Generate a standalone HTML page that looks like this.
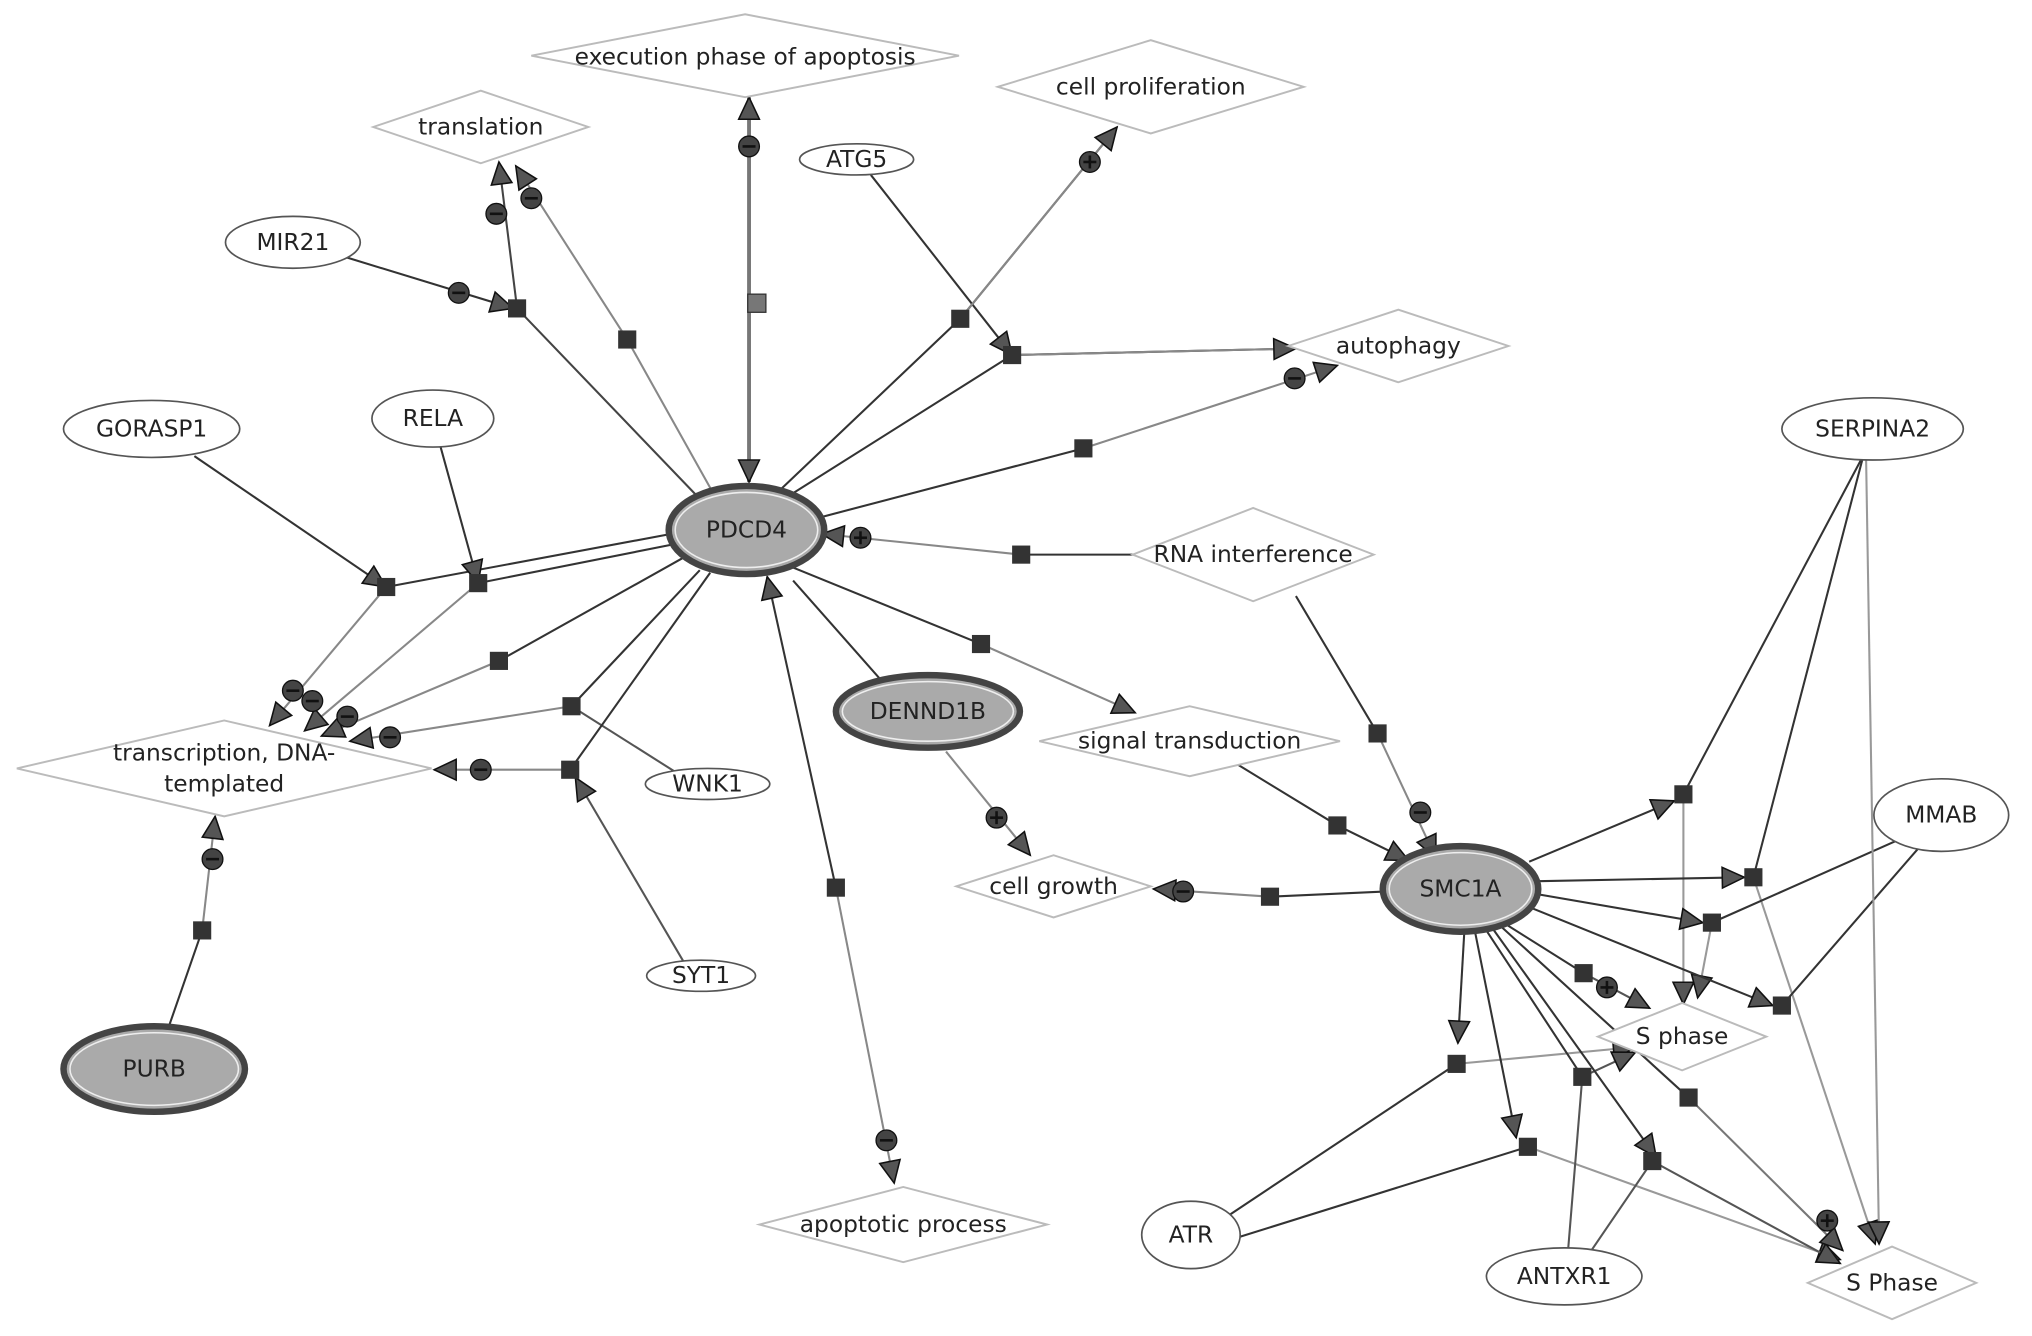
<!DOCTYPE html>
<html><head><meta charset="utf-8"><style>
html,body{margin:0;padding:0;background:#fff}
svg{display:block}
text{font-family:"DejaVu Sans","Liberation Sans",sans-serif;font-size:18px;fill:#222}
</style></head><body>
<svg width="2032" height="1336" viewBox="0 0 1568 1031" preserveAspectRatio="none" xmlns="http://www.w3.org/2000/svg">
<defs>
<marker id="a" markerUnits="userSpaceOnUse" markerWidth="20" markerHeight="20" refX="18" refY="9" orient="auto">
<path d="M1,1 L18,9 L1,17 Z" fill="#555" stroke="#111" stroke-width="1.2"/></marker>
<marker id="as" markerUnits="userSpaceOnUse" markerWidth="20" markerHeight="20" refX="2" refY="9" orient="auto">
<path d="M19,1 L2,9 L19,17 Z" fill="#555" stroke="#111" stroke-width="1.2"/></marker>
<g id="sq"><rect x="-7" y="-7" width="14" height="14" fill="#333"/></g>
<g id="mi"><circle r="8" fill="#444" stroke="#111"/><line x1="-5" y1="0" x2="5" y2="0" stroke="#111" stroke-width="2"/></g>
<g id="pl"><circle r="8" fill="#444" stroke="#111"/><line x1="-5" y1="0" x2="5" y2="0" stroke="#111" stroke-width="2"/><line x1="0" y1="-5" x2="0" y2="5" stroke="#111" stroke-width="2"/></g>
</defs>
<g fill="none" stroke-width="1.6">
<!-- PDCD4 hub -->
<path d="M540,385 L399,238 L385,125" stroke="#444" marker-end="url(#a)"/>
<path d="M262,197 L396,238" stroke="#333" marker-end="url(#a)"/>
<path d="M550,380 L484,262 L398,128" stroke="#888" marker-end="url(#a)"/>
<path d="M578,75 L578,372" stroke="#777" stroke-width="3" marker-start="url(#as)" marker-end="url(#a)"/>
<path d="M672,135 L781,274" stroke="#333" marker-end="url(#a)"/>
<path d="M600,380 L741,246 L862,98" stroke="#333"/>
<path d="M741,246 L862,98" stroke="#888" marker-end="url(#a)"/>
<path d="M605,385 L781,274 L1000,269" stroke="#333"/>
<path d="M781,274 L1000,269" stroke="#888" marker-end="url(#a)"/>
<path d="M630,400 L836,346" stroke="#333"/>
<path d="M836,346 L1032,282" stroke="#888" marker-end="url(#a)"/>
<path d="M875,428 L788,428" stroke="#333"/>
<path d="M788,428 L634,412" stroke="#888" marker-end="url(#a)"/>
<path d="M612,438 L757,497" stroke="#333"/>
<path d="M757,497 L876,550" stroke="#888" marker-end="url(#a)"/>
<path d="M730,580 L795,660" stroke="#888" marker-end="url(#a)"/>
<path d="M680,525 L612,448" stroke="#333"/>
<path d="M645,685 L592,445" stroke="#333" marker-end="url(#a)"/>
<path d="M645,685 L690,913" stroke="#888" marker-end="url(#a)"/>
<path d="M150,352 L298,453" stroke="#333" marker-end="url(#a)"/>
<path d="M298,453 L518,412" stroke="#333"/>
<path d="M298,453 L208,560" stroke="#888" marker-end="url(#a)"/>
<path d="M340,345 L369,450" stroke="#333" marker-end="url(#a)"/>
<path d="M369,450 L520,420" stroke="#333"/>
<path d="M369,450 L235,564" stroke="#888" marker-end="url(#a)"/>
<path d="M528,430 L385,510" stroke="#333"/>
<path d="M385,510 L248,568" stroke="#888" marker-end="url(#a)"/>
<path d="M520,595 L441,545" stroke="#555"/>
<path d="M441,545 L270,572" stroke="#888" marker-end="url(#a)"/>
<path d="M540,440 L441,545" stroke="#333"/>
<path d="M548,442 L440,594" stroke="#333"/>
<path d="M440,594 L335,594" stroke="#888" marker-end="url(#a)"/>
<path d="M528,743 L444,600" stroke="#555" marker-end="url(#a)"/>
<path d="M130,793 L156,718" stroke="#333"/>
<path d="M156,718 L166,630" stroke="#888" marker-end="url(#a)"/>
<!-- right part -->
<path d="M1000,460 L1063,566" stroke="#333"/>
<path d="M1063,566 L1108,662" stroke="#888" marker-end="url(#a)"/>
<path d="M955,590 L1032,637 L1087,664" stroke="#333" marker-end="url(#a)"/>
<path d="M1068,688 L980,692" stroke="#333"/>
<path d="M980,692 L890,686" stroke="#888" marker-end="url(#a)"/>
<path d="M1180,665 L1292,618" stroke="#333" marker-end="url(#a)"/>
<path d="M1436,355 L1299,613" stroke="#333"/>
<path d="M1299,613 L1299,775" stroke="#999" marker-end="url(#a)"/>
<path d="M1187,680 L1346,677" stroke="#333" marker-end="url(#a)"/>
<path d="M1437,355 L1353,677" stroke="#333"/>
<path d="M1353,677 L1447,960" stroke="#999" marker-end="url(#a)"/>
<path d="M1186,690 L1314,712" stroke="#333" marker-end="url(#a)"/>
<path d="M1472,645 L1321,712" stroke="#333"/>
<path d="M1321,712 L1310,770" stroke="#999" marker-end="url(#a)"/>
<path d="M1180,700 L1368,776" stroke="#333" marker-end="url(#a)"/>
<path d="M1480,655 L1375,776" stroke="#333"/>
<path d="M1440,355 L1450,960" stroke="#999" marker-end="url(#a)"/>
<path d="M1160,712 L1222,751" stroke="#333"/>
<path d="M1222,751 L1273,778" stroke="#555" marker-end="url(#a)"/>
<path d="M1130,718 L1125,805" stroke="#333" marker-end="url(#a)"/>
<path d="M945,940 L1124,821" stroke="#333"/>
<path d="M1124,821 L1262,808" stroke="#999" marker-end="url(#a)"/>
<path d="M1138,718 L1170,878" stroke="#333" marker-end="url(#a)"/>
<path d="M955,955 L1179,885" stroke="#333"/>
<path d="M1179,885 L1420,972" stroke="#999" marker-end="url(#a)"/>
<path d="M1145,715 L1221,831" stroke="#333"/>
<path d="M1210,965 L1221,831 L1262,812" stroke="#555" marker-end="url(#a)"/>
<path d="M1150,714 L1278,893" stroke="#333" marker-end="url(#a)"/>
<path d="M1228,965 L1275,896 L1420,975" stroke="#555" marker-end="url(#a)"/>
<path d="M1155,712 L1303,847" stroke="#333"/>
<path d="M1303,847 L1422,965" stroke="#777" marker-end="url(#a)"/>
</g>
<!-- squares -->
<g>
<use href="#sq" x="399" y="238"/><use href="#sq" x="484" y="262"/><use href="#sq" x="741" y="246"/>
<use href="#sq" x="781" y="274"/><use href="#sq" x="836" y="346"/><use href="#sq" x="788" y="428"/>
<use href="#sq" x="757" y="497"/><use href="#sq" x="645" y="685"/><use href="#sq" x="298" y="453"/>
<use href="#sq" x="369" y="450"/><use href="#sq" x="385" y="510"/><use href="#sq" x="441" y="545"/>
<use href="#sq" x="440" y="594"/><use href="#sq" x="156" y="718"/><use href="#sq" x="1063" y="566"/>
<use href="#sq" x="1032" y="637"/><use href="#sq" x="980" y="692"/><use href="#sq" x="1299" y="613"/>
<use href="#sq" x="1353" y="677"/><use href="#sq" x="1321" y="712"/><use href="#sq" x="1375" y="776"/>
<use href="#sq" x="1222" y="751"/><use href="#sq" x="1124" y="821"/><use href="#sq" x="1179" y="885"/>
<use href="#sq" x="1221" y="831"/><use href="#sq" x="1275" y="896"/><use href="#sq" x="1303" y="847"/>
<rect x="577" y="227" width="14" height="14" fill="#777" stroke="#333"/>
</g>
<g>
<use href="#mi" x="383" y="165"/><use href="#mi" x="410" y="153"/><use href="#mi" x="354" y="226"/>
<use href="#mi" x="578" y="113"/><use href="#pl" x="841" y="125"/><use href="#mi" x="999" y="292"/>
<use href="#pl" x="664" y="415"/><use href="#pl" x="769" y="631"/><use href="#mi" x="684" y="880"/>
<use href="#mi" x="226" y="533"/><use href="#mi" x="241" y="541"/><use href="#mi" x="268" y="553"/>
<use href="#mi" x="301" y="569"/><use href="#mi" x="371" y="594"/><use href="#mi" x="164" y="663"/>
<use href="#mi" x="1096" y="627"/><use href="#mi" x="913" y="688"/><use href="#pl" x="1240" y="762"/>
<use href="#pl" x="1410" y="942"/>
</g>
<!-- diamonds -->
<g fill="#fff" stroke="#bbb" stroke-width="1.5">
<polygon points="410,43 575,11 740,43 575,75"/>
<polygon points="288,98 371,70 454,98 371,126"/>
<polygon points="770,67 888,31 1006,67 888,103"/>
<polygon points="994,267 1079,239 1164,267 1079,295"/>
<polygon points="874,428 967,392 1060,428 967,464"/>
<polygon points="802,572 918,545 1034,572 918,599"/>
<polygon points="13,593 173,556 333,593 173,630"/>
<polygon points="738,684 813,660 888,684 813,708"/>
<polygon points="1233,800 1298,774 1363,800 1298,826"/>
<polygon points="1395,990 1460,962 1525,990 1460,1018"/>
<polygon points="586,945 697,916 808,945 697,974"/>
</g>
<!-- ellipses -->
<g fill="#fff" stroke="#555" stroke-width="1.3">
<ellipse cx="226" cy="187" rx="52" ry="20"/><ellipse cx="661" cy="123" rx="44" ry="12"/>
<ellipse cx="117" cy="331" rx="68" ry="22"/><ellipse cx="334" cy="323" rx="47" ry="22"/>
<ellipse cx="546" cy="605" rx="48" ry="12"/><ellipse cx="541" cy="753" rx="42" ry="12"/>
<ellipse cx="1445" cy="331" rx="70" ry="24"/><ellipse cx="1498" cy="629" rx="52" ry="28"/>
<ellipse cx="919" cy="953" rx="38" ry="26"/><ellipse cx="1207" cy="985" rx="60" ry="22"/>
</g>
<g fill="#aaa" stroke="#444" stroke-width="5">
<ellipse cx="576" cy="409" rx="60" ry="34"/><ellipse cx="716" cy="549" rx="71" ry="28"/>
<ellipse cx="1127" cy="686" rx="60" ry="33"/><ellipse cx="119" cy="825" rx="70" ry="33"/>
</g>
<g fill="none" stroke="#eee" stroke-width="1.2">
<ellipse cx="576" cy="409" rx="55" ry="29"/><ellipse cx="716" cy="549" rx="66" ry="23"/>
<ellipse cx="1127" cy="686" rx="55" ry="28"/><ellipse cx="119" cy="825" rx="65" ry="28"/>
</g>
<g text-anchor="middle" dominant-baseline="central">
<text x="575" y="44">execution phase of apoptosis</text>
<text x="371" y="98">translation</text>
<text x="888" y="67">cell proliferation</text>
<text x="1079" y="267">autophagy</text>
<text x="967" y="428">RNA interference</text>
<text x="918" y="572">signal transduction</text>
<text x="173" y="581">transcription, DNA-</text>
<text x="173" y="605">templated</text>
<text x="813" y="684">cell growth</text>
<text x="1298" y="800">S phase</text>
<text x="1460" y="990">S Phase</text>
<text x="697" y="945">apoptotic process</text>
<text x="226" y="187">MIR21</text><text x="661" y="123">ATG5</text>
<text x="117" y="331">GORASP1</text><text x="334" y="323">RELA</text>
<text x="546" y="605">WNK1</text><text x="541" y="753">SYT1</text>
<text x="1445" y="331">SERPINA2</text><text x="1498" y="629">MMAB</text>
<text x="919" y="953">ATR</text><text x="1207" y="985">ANTXR1</text>
<text x="576" y="409">PDCD4</text><text x="716" y="549">DENND1B</text>
<text x="1127" y="686">SMC1A</text><text x="119" y="825">PURB</text>
</g>
</svg>
</body></html>
